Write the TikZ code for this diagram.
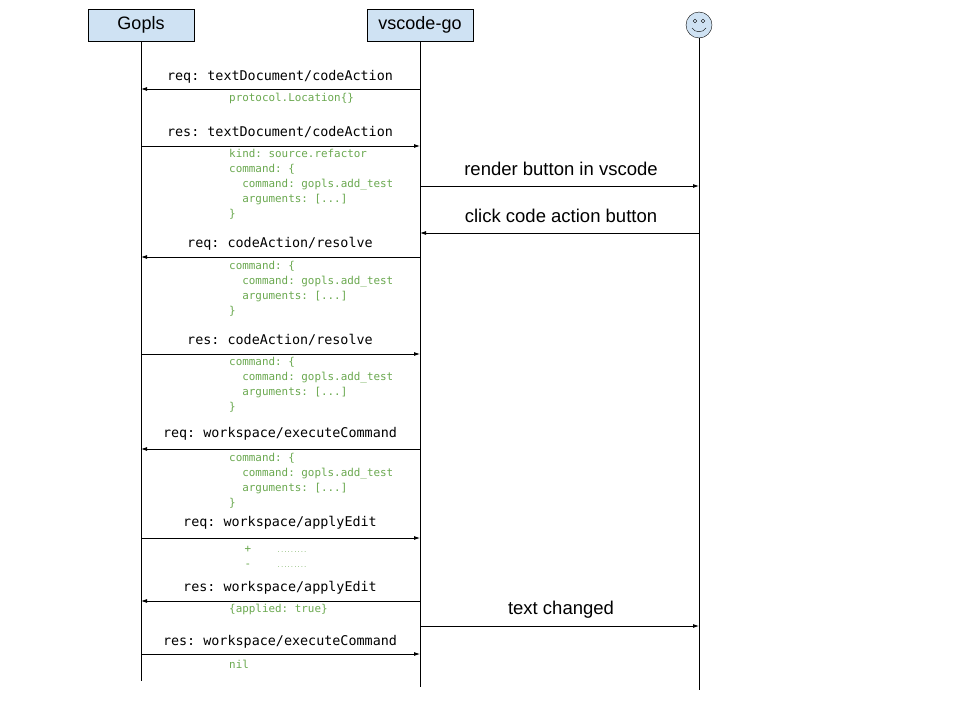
\documentclass[tikz,border=0pt]{standalone}
\usepackage{fontspec}
\setmainfont{Liberation Sans}
\setmonofont{DejaVu Sans Mono}
\usetikzlibrary{arrows.meta}
\definecolor{codegreen}{HTML}{6AA84F}
\definecolor{boxblue}{HTML}{CFE2F3}
\tikzset{
	actor/.style={draw, fill=boxblue, minimum width=106pt, minimum height=32pt, inner sep=0pt, font=\fontsize{18}{18}\selectfont},
	msg/.style={-{Latex[length=6pt,width=4pt]}, line width=0.8pt},
	call/.style={font=\ttfamily\fontsize{13.4}{13.4}\selectfont, anchor=base},
	note/.style={font=\ttfamily\fontsize{10.9}{15}\selectfont, text=codegreen, anchor=north west, align=left, inner sep=0pt},
	say/.style={font=\fontsize{18.5}{18.5}\selectfont, anchor=base}
}
\begin{document}
\begin{tikzpicture}[x=1pt, y=-1pt]
	\useasboundingbox (0,0) rectangle (960,720);
	
	% participants
	\node[actor] (gopls) at (141,25) {Gopls};
	\node[actor] (vsc) at (420,25) {vscode-go};
	\draw[fill=boxblue] (699,25) circle (13);
	\coordinate (face) at (699,38);
	\draw (695,21) circle (1.8);
	\draw (703,21) circle (1.8);
	\draw (692,28) .. controls (695,33) and (703,33) .. (706,28);
	
	% lifelines
	\coordinate (gend) at (141,681);
	\coordinate (vend) at (420,687);
	\coordinate (uend) at (699,690);
	\draw (gopls.south) -- (gend);
	\draw (vsc.south) -- (vend);
	\draw (face) -- (uend);
	
	\foreach \n/\y in {a/89, b/146, c/186, d/233, e/257, f/354, g/449, h/538, i/601, j/626, k/654} {
		\coordinate (g\n) at (141,\y);
		\coordinate (v\n) at (420,\y);
		\coordinate (u\n) at (699,\y);
	}
	
	% messages
	\draw[msg] (va) -- (ga);
	\node[call] at (280,80) {req: textDocument/codeAction};
	\node[note] at (229,93) {protocol.Location\{\}};
	
	\draw[msg] (gb) -- (vb);
	\node[call] at (280,136) {res: textDocument/codeAction};
	\node[note] at (229,149) {kind: source.refactor\\command: \{\\\ \ command: gopls.add\_test\\\ \ arguments: [...]\\\}};
	
	\draw[msg] (vc) -- (uc);
	\node[say] at (561,175) {render button in vscode};
	\draw[msg] (ud) -- (vd);
	\node[say] at (561,222) {click code action button};
	
	\draw[msg] (ve) -- (ge);
	\node[call] at (280,247) {req: codeAction/resolve};
	\node[note] at (229,261) {command: \{\\\ \ command: gopls.add\_test\\\ \ arguments: [...]\\\}};
	
	\draw[msg] (gf) -- (vf);
	\node[call] at (280,344) {res: codeAction/resolve};
	\node[note] at (229,357) {command: \{\\\ \ command: gopls.add\_test\\\ \ arguments: [...]\\\}};
	
	\draw[msg] (vg) -- (gg);
	\node[call] at (280,437) {req: workspace/executeCommand};
	\node[note] at (229,453) {command: \{\\\ \ command: gopls.add\_test\\\ \ arguments: [...]\\\}};
	
	\draw[msg] (gh) -- (vh);
	\node[call] at (280,526) {req: workspace/applyEdit};
	\node[note, anchor=base] at (248,552) {+};
	\node[note, anchor=base] at (248,567) {-};
	\node[note, anchor=base west, font=\ttfamily\fontsize{5.5}{5.5}\selectfont] at (277,552) {.........};
	\node[note, anchor=base west, font=\ttfamily\fontsize{5.5}{5.5}\selectfont] at (277,567) {.........};
	
	\draw[msg] (vi) -- (gi);
	\node[call] at (280,591) {res: workspace/applyEdit};
	\node[note] at (229,604) {\{applied: true\}};
	
	\draw[msg] (vj) -- (uj);
	\node[say] at (561,614) {text changed};
	
	\draw[msg] (gk) -- (vk);
	\node[call] at (280,645) {res: workspace/executeCommand};
	\node[note] at (229,660) {nil};
\end{tikzpicture}
\end{document}
